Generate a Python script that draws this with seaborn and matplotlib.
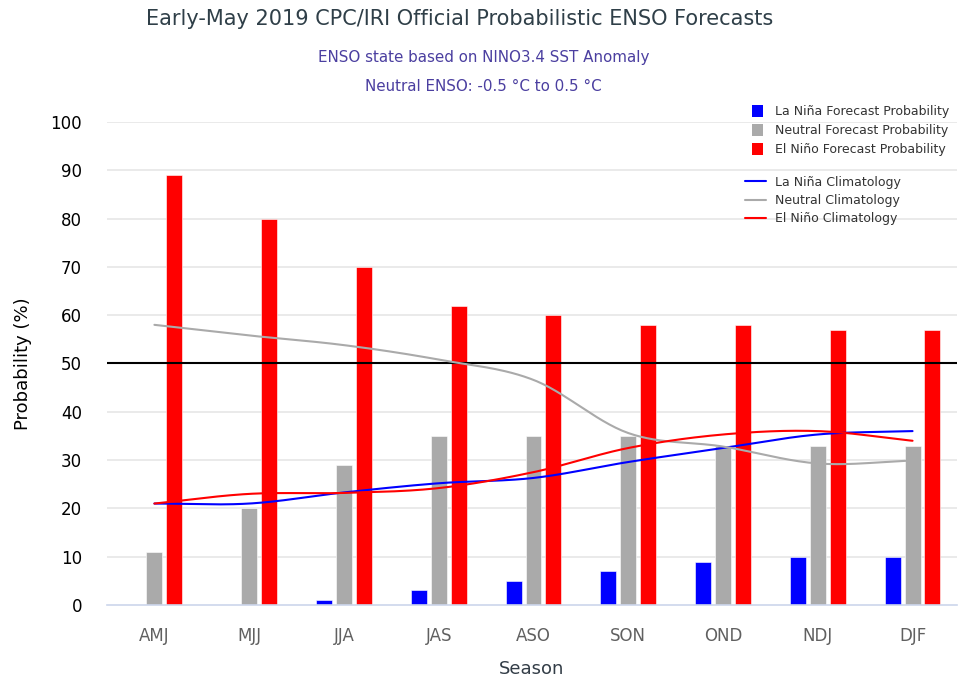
import numpy as np
import pandas as pd
import matplotlib
matplotlib.use("Agg")
import matplotlib.pyplot as plt
import seaborn as sns
from matplotlib.lines import Line2D
from matplotlib.patches import Patch

# ================= DATA =================
seasons = ['AMJ', 'MJJ', 'JJA', 'JAS', 'ASO', 'SON', 'OND', 'NDJ', 'DJF']

lanina_prob = [0, 0, 1, 3, 5, 7, 9, 10, 10]
neutral_prob = [11, 20, 29, 35, 35, 35, 33, 33, 33]
elnino_prob = [89, 80, 70, 62, 60, 58, 58, 57, 57]

lanina_clim = [21, 21, 23.3, 25.2, 26.3, 29.6, 32.5, 35.3, 36]
neutral_clim = [58, 55.8, 53.8, 50.8, 46.6, 35.6, 32.8, 29.3, 29.9]
elnino_clim = [21, 23, 23.2, 24.2, 27.5, 32.5, 35.3, 36, 34]

bar_names = ['La Niña Forecast Probability', 'Neutral Forecast Probability',
             'El Niño Forecast Probability']
line_names = ['La Niña Climatology', 'Neutral Climatology', 'El Niño Climatology']
colors = ['#0000ff', '#aaaaaa', '#ff0000']

df_bars = pd.DataFrame({
    'Season': seasons * 3,
    'Probability': lanina_prob + neutral_prob + elnino_prob,
    'Kind': [n for n in bar_names for _ in seasons],
})


def spline(xs, ys, n=30):
    # smooth curve through the points (like the highcharts spline style)
    xs = np.asarray(xs, float)
    ys = np.asarray(ys, float)
    m = np.zeros_like(ys)
    m[1:-1] = (ys[2:] - ys[:-2]) / (xs[2:] - xs[:-2])
    m[0] = ys[1] - ys[0]
    m[-1] = ys[-1] - ys[-2]
    out_x, out_y = [], []
    for i in range(len(xs) - 1):
        t = np.linspace(0, 1, n, endpoint=False)
        h = xs[i + 1] - xs[i]
        h00 = 2 * t**3 - 3 * t**2 + 1
        h10 = t**3 - 2 * t**2 + t
        h01 = -2 * t**3 + 3 * t**2
        h11 = t**3 - t**2
        out_x.extend(xs[i] + t * h)
        out_y.extend(h00 * ys[i] + h10 * h * m[i] + h01 * ys[i + 1] + h11 * h * m[i + 1])
    out_x.append(xs[-1])
    out_y.append(ys[-1])
    return np.array(out_x), np.array(out_y)


# ================= PLOT =================
sns.set_theme(style='white')
plt.rcParams['font.family'] = ['DejaVu Sans']

fig = plt.figure(figsize=(9.59, 6.78), dpi=100)
ax = fig.add_axes([0.1116, 0.1077, 0.8864, 0.7124])

# gridlines
for v in range(10, 101, 10):
    ax.axhline(v, color='#e6e6e6', lw=1.2, zorder=0)

sns.barplot(data=df_bars, x='Season', y='Probability', hue='Kind',
            palette=colors, width=0.63, gap=0.2, order=seasons,
            hue_order=bar_names, saturation=1, errorbar=None, ax=ax,
            legend=False, zorder=2, edgecolor='white', linewidth=0.4)

ax.axhline(50, color='black', lw=1.5, zorder=3)

pos = np.arange(len(seasons))
for vals, c in zip([lanina_clim, neutral_clim, elnino_clim], colors):
    sx, sy = spline(pos, vals)
    sns.lineplot(x=sx, y=sy, color=c, lw=1.5, ax=ax, sort=False, zorder=4)

ax.set_ylim(0, 100)
ax.set_xlim(-0.5, 8.47)
ax.set_yticks(range(0, 101, 10))
ax.tick_params(axis='y', labelsize=12, labelcolor='black', length=0, pad=18)
ax.tick_params(axis='x', labelsize=12, labelcolor='#606060', length=0, pad=16)
for s in ['top', 'right', 'left']:
    ax.spines[s].set_visible(False)
ax.spines['bottom'].set_color('#ccd6eb')
ax.spines['bottom'].set_linewidth(1.2)

ax.set_xlabel('Season', fontsize=13, color='#333d47', labelpad=11)
ax.set_ylabel('Probability (%)', fontsize=13, color='black', labelpad=13)

fig.text(0.479, 0.972, 'Early-May 2019 CPC/IRI Official Probabilistic ENSO Forecasts',
         ha='center', va='center', fontsize=15, color='#2f3f48')
fig.text(0.504, 0.915, 'ENSO state based on NINO3.4 SST Anomaly',
         ha='center', va='center', fontsize=10.9, color='#4b3fa0')
fig.text(0.504, 0.873, 'Neutral ENSO: -0.5 °C to 0.5 °C',
         ha='center', va='center', fontsize=10.9, color='#4b3fa0')

# legends
bar_handles = [Patch(facecolor=c, edgecolor='none') for c in colors]
leg1 = ax.legend(bar_handles, bar_names, loc='upper left',
                 bbox_to_anchor=(0.746, 1.058), frameon=False, fontsize=9,
                 handlelength=0.85, handleheight=1.1, handletextpad=0.95,
                 labelspacing=0.45, labelcolor='#333333')
ax.add_artist(leg1)
line_handles = [Line2D([0], [0], color=c, lw=1.5) for c in colors]
ax.legend(line_handles, line_names, loc='upper left',
          bbox_to_anchor=(0.737, 0.912), frameon=False, fontsize=9,
          handlelength=1.7, handletextpad=0.75, labelspacing=0.42,
          labelcolor='#333333')

plt.savefig('out.png', dpi=100)
plt.close()
